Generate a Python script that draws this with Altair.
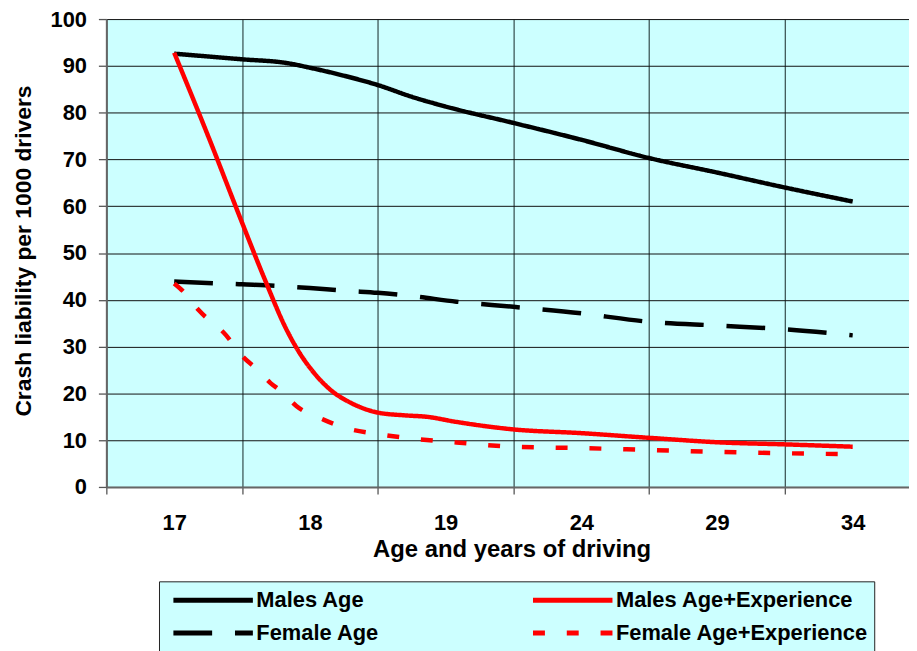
import altair as alt
import pandas as pd

# ---- data ----
x_labels = ["17", "18", "19", "24", "29", "34"]
# legend fills column by column: first column = age only, second = age+experience
series_names = ["Males Age", "Female Age", "Males Age+Experience", "Female Age+Experience"]

# positions along the category axis (1 unit = one labelled category group)
males_age_pos = [0.5, 1.0, 1.33, 1.5, 1.75, 2.0, 2.25, 2.5, 3.0, 3.5, 4.0, 4.5, 5.0, 5.5]
males_age_val = [92.6, 91.4, 90.6, 89.6, 87.9, 85.9, 83.4, 81.3, 77.8, 74.2, 70.3, 67.2, 64.0, 61.0]

males_exp_pos = [0.5, 0.75, 1.0, 1.16, 1.33, 1.41, 1.53, 1.68, 1.78, 2.0, 2.2, 2.36, 2.58, 3.0, 3.5, 4.0, 4.54, 5.0, 5.5]
males_exp_val = [92.8, 75.0, 56.5, 44.9, 33.5, 29.3, 24.4, 20.1, 18.3, 15.9, 15.3, 15.0, 13.9, 12.3, 11.5, 10.5, 9.5, 9.1, 8.6]

female_age_pos = [0.5, 1.0, 1.25, 1.5, 1.78, 2.0, 2.25, 2.58, 3.0, 3.5, 4.0, 4.5, 5.0, 5.5]
female_age_val = [43.9, 43.3, 43.0, 42.5, 41.9, 41.5, 40.8, 39.6, 38.5, 37.1, 35.3, 34.5, 33.7, 32.4]

female_exp_pos = [0.5, 0.57, 0.68, 0.88, 1.0, 1.1, 1.21, 1.29, 1.4, 1.6, 1.75, 2.0, 2.3, 2.58, 3.0, 3.5, 4.0, 4.5, 5.0, 5.5]
female_exp_val = [43.5, 41.7, 37.8, 32.5, 28.0, 25.4, 22.2, 20.4, 17.3, 14.4, 12.7, 11.3, 10.2, 9.5, 8.6, 8.3, 7.9, 7.5, 7.2, 7.0]

series_colors = ["#000000", "#000000", "#FF0000", "#FF0000"]
series_dashes = [[1, 0], [39, 23], [1, 0], [12, 22]]

rows = []
for name, ps, vs in [
    ("Males Age", males_age_pos, males_age_val),
    ("Female Age", female_age_pos, female_age_val),
    ("Males Age+Experience", males_exp_pos, males_exp_val),
    ("Female Age+Experience", female_exp_pos, female_exp_val),
]:
    for p, v in zip(ps, vs):
        rows.append({"series": name, "pos": p, "value": v})
df = pd.DataFrame(rows)

FONT = "Liberation Sans"
W, H = 808, 471
x_max = 5.915

tick_vals = [i * 0.5 for i in range(12)]
label_arr = "[" + ",".join("'" + s + "'" for s in x_labels) + "]"
label_expr = "datum.value % 1 === 0 ? '' : " + label_arr + "[floor(datum.value)]"
integer_only = {"condition": {"test": "datum.value % 1 !== 0", "value": 0}, "value": 1}

x_enc = alt.X(
    "pos:Q",
    scale=alt.Scale(domain=[0, x_max], nice=False, zero=False),
    axis=alt.Axis(
        values=tick_vals,
        labelExpr=label_expr,
        gridOpacity=integer_only,
        tickOpacity=integer_only,
        grid=True,
        gridColor="#3f5858",
        gridWidth=1.3,
        tickSize=7,
        tickColor="#555555",
        tickWidth=1.3,
        domainColor="#666666",
        domainWidth=2,
        labelFontSize=22,
        labelPadding=36,
        labelBaseline="alphabetic",
        labelAngle=0,
        title="Age and years of driving",
        titleFontSize=24,
        titleX=408,
        titleY=70,
        titleBaseline="alphabetic",
        titleAlign="center",
    ),
)

y_enc = alt.Y(
    "value:Q",
    scale=alt.Scale(domain=[0, 100], nice=False),
    axis=alt.Axis(
        values=list(range(0, 101, 10)),
        grid=True,
        gridColor="#111111",
        gridWidth=1,
        tickSize=8,
        tickColor="#555555",
        tickWidth=1.3,
        domainColor="#666666",
        domainWidth=2,
        labelFontSize=22,
        labelPadding=12,
        title="Crash liability per 1000 drivers",
        titleFontSize=23,
        titleAngle=270,
        titleX=-76,
        titleY=233,
        titleAlign="center",
        titleBaseline="alphabetic",
    ),
)

legend = alt.Legend(
    title=None,
    orient="none",
    legendX=53,
    legendY=566,
    columns=2,
    columnPadding=146,
    rowPadding=7,
    symbolType="stroke",
    symbolSize=6400,
    symbolStrokeWidth=5,
    symbolOffset=6,
    labelOffset=1,
    labelFontSize=22,
    labelFont=FONT,
    labelFontWeight="bold",
    labelColor="#000000",
    labelLimit=400,
    padding=6,
    clipHeight=26,
    fillColor="#CCFFFF",
    strokeColor="#222222",
)

color_enc = alt.Color(
    "series:N",
    scale=alt.Scale(domain=series_names, range=series_colors),
    legend=legend,
)
dash_enc = alt.StrokeDash(
    "series:N",
    scale=alt.Scale(domain=series_names, range=series_dashes),
    legend=legend,
)

base = alt.Chart(df).mark_line(strokeWidth=4.5, interpolate="monotone", strokeCap="butt", strokeJoin="round").encode(
    x=x_enc, y=y_enc, color=color_enc, strokeDash=dash_enc
)

black_layer = base.transform_filter(
    alt.FieldOneOfPredicate(field="series", oneOf=["Males Age", "Female Age"])
)
red_layer = base.transform_filter(
    alt.FieldOneOfPredicate(field="series", oneOf=["Males Age+Experience", "Female Age+Experience"])
)

chart = (
    alt.layer(black_layer, red_layer)
    .properties(
        width=W,
        height=H,
        padding={"left": 99, "top": 9, "right": 0, "bottom": 163},
        autosize=alt.AutoSizeParams(type="none"),
        background="#FFFFFF",
    )
    .configure(font=FONT)
    .configure_axis(labelFontWeight="bold", titleFontWeight="bold", labelColor="#000000", titleColor="#000000", labelFont=FONT, titleFont=FONT)
    .configure_view(fill="#CCFFFF", stroke="transparent")
)

chart.save("out.html", embed_options={"renderer": "svg", "actions": False})
